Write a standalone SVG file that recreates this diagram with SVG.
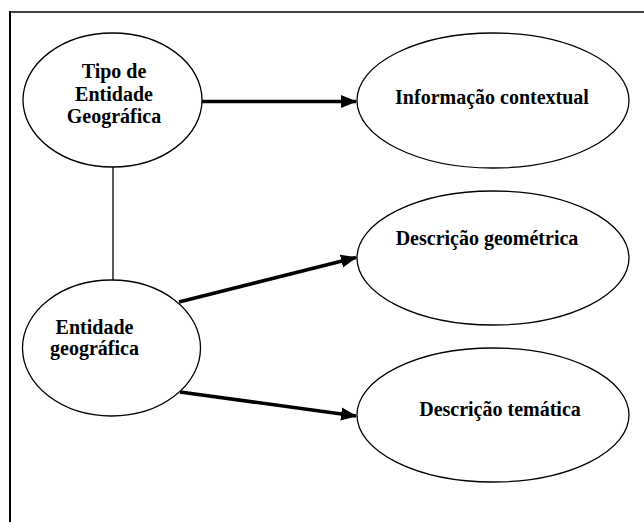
<svg xmlns="http://www.w3.org/2000/svg" width="644" height="522" viewBox="0 0 644 522">
  <style>
    .node { fill: #ffffff; stroke: #000000; stroke-width: 1.3; }
    .label { font-family: "Liberation Serif", "Times New Roman", serif; font-weight: bold; font-size: 20px; fill: #000000; text-anchor: middle; }
    .arrow { stroke: #000000; stroke-width: 3.5; fill: none; marker-end: url(#head); }
    .link { stroke: #000000; stroke-width: 1.3; fill: none; }
  </style>
  <defs>
    <marker id="head" viewBox="0 0 16 14" refX="15" refY="7" markerWidth="16" markerHeight="14" markerUnits="userSpaceOnUse" orient="auto">
      <path d="M0,0.5 L16,7 L0,13.5 Z" fill="#000000"/>
    </marker>
  </defs>

  <rect width="644" height="522" fill="#ffffff"/>

  <!-- frame: top and left rules -->
  <g id="frame">
    <line x1="9" y1="12" x2="644" y2="12" stroke="#404040" stroke-width="2"/>
    <line x1="10" y1="11" x2="10" y2="522" stroke="#000000" stroke-width="2"/>
  </g>

  <!-- connectors -->
  <g id="connectors">
    <line class="link" x1="113" y1="167" x2="113" y2="280"/>
    <line class="arrow" x1="202" y1="101.5" x2="356" y2="101.5"/>
    <line class="arrow" x1="179" y1="302" x2="356" y2="257.5"/>
    <line class="arrow" x1="180" y1="392" x2="356" y2="416"/>
  </g>

  <g id="tipo-entidade">
    <ellipse class="node" cx="112.5" cy="100" rx="89.5" ry="67"/>
    <text class="label" x="114" y="78">Tipo de</text>
    <text class="label" x="114" y="100.5">Entidade</text>
    <text class="label" x="114" y="122.5">Geográfica</text>
  </g>

  <g id="entidade-geografica">
    <ellipse class="node" cx="111.5" cy="348" rx="89" ry="68"/>
    <text class="label" x="94.5" y="333.5">Entidade</text>
    <text class="label" x="94.5" y="355">geográfica</text>
  </g>

  <g id="informacao-contextual">
    <ellipse class="node" cx="493" cy="100.5" rx="136" ry="67.5"/>
    <text class="label" x="492" y="104">Informação contextual</text>
  </g>

  <g id="descricao-geometrica">
    <ellipse class="node" cx="493" cy="258" rx="136" ry="67"/>
    <text class="label" x="487" y="245">Descrição geométrica</text>
  </g>

  <g id="descricao-tematica">
    <ellipse class="node" cx="493" cy="415" rx="136" ry="67"/>
    <text class="label" x="500" y="416">Descrição temática</text>
  </g>
</svg>
